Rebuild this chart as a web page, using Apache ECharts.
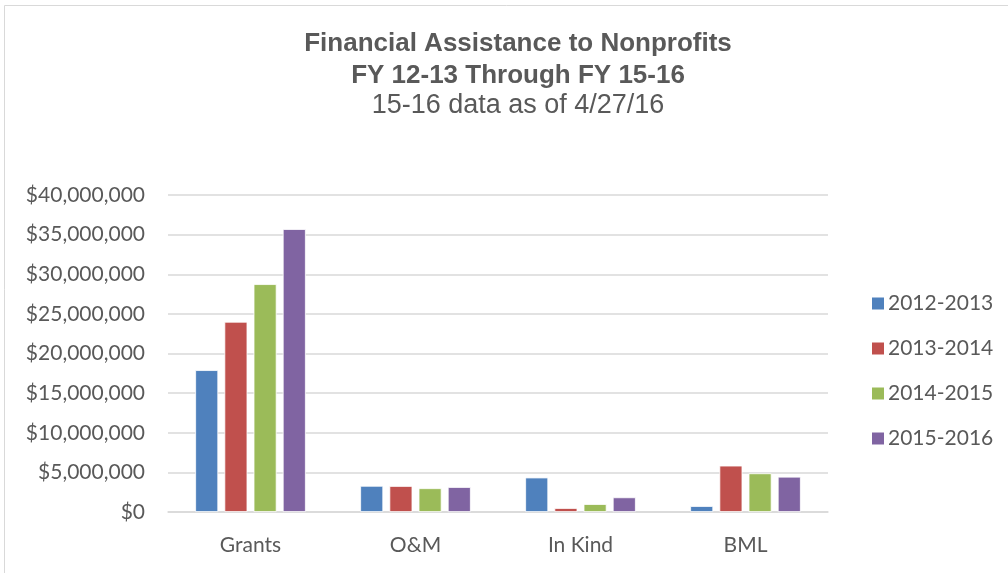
<!DOCTYPE html>
<html><head><meta charset="utf-8">
<script src="https://cdn.jsdelivr.net/npm/echarts@6/dist/echarts.min.js"></script>
<style>html,body{margin:0;padding:0;background:#fff}#c{width:1008px;height:573px}</style>
</head><body><div id="c"></div>
<script>
const categories = ["Grants", "O&M", "In Kind", "BML"];
const seriesNames = ["2012-2013", "2013-2014", "2014-2015", "2015-2016"];
const s2012 = [17900000, 3300000, 4350000, 750000];
const s2013 = [24000000, 3280000, 500000, 5850000];
const s2014 = [28750000, 3000000, 1000000, 4880000];
const s2015 = [35700000, 3150000, 1850000, 4450000];
const colors = ["#4F81BD", "#C0504D", "#9BBB59", "#8064A2"];
const yTicks = {min: 0, max: 40000000, interval: 5000000};

const chart = echarts.init(document.getElementById('c'));
const allData = [s2012, s2013, s2014, s2015];
chart.setOption({
  animation: false,
  graphic: [{type: 'rect', shape: {x: 4.5, y: 5.5, width: 1010, height: 580}, style: {fill: 'none', stroke: '#d9d9d9', lineWidth: 1}}],
  title: [
    {text: 'Financial Assistance to Nonprofits\nFY 12-13 Through FY 15-16', left: 513, textAlign: 'center', top: 23,
     textStyle: {fontFamily: 'Liberation Sans', fontWeight: 'bold', fontSize: 26, color: '#595959', lineHeight: 32}},
    {text: '15-16 data as of 4/27/16', left: 513, textAlign: 'center', top: 87,
     textStyle: {fontFamily: 'Liberation Sans', fontWeight: 'normal', fontSize: 27, color: '#595959', lineHeight: 27}}
  ],
  legend: {
    orient: 'vertical', left: 865, top: 288, itemGap: 24, itemWidth: 14, itemHeight: 14,
    icon: 'rect', data: seriesNames,
    textStyle: {fontFamily: 'Lato', fontSize: 21, lineHeight: 21, color: '#595959', padding: [0, 0, 0, -2]}
  },
  grid: {left: 168, right: 180, top: 195, bottom: 61},
  xAxis: {
    type: 'category', data: categories,
    axisLine: {lineStyle: {color: '#d9d9d9', width: 1.5}},
    axisTick: {show: false},
    axisLabel: {fontFamily: 'Lato', fontSize: 21, color: '#595959', margin: 23}
  },
  yAxis: {
    type: 'value', min: yTicks.min, max: yTicks.max, interval: yTicks.interval,
    axisLine: {show: false}, axisTick: {show: false},
    splitLine: {lineStyle: {color: '#d9d9d9', width: 1.5}},
    axisLabel: {fontFamily: 'Lato', fontSize: 21, color: '#595959', margin: 23,
      formatter: v => '$' + v.toLocaleString('en-US')}
  },
  series: seriesNames.map((n, i) => ({
    name: n, type: 'bar', data: allData[i],
    barGap: '27%', barCategoryGap: '33%',
    itemStyle: {color: colors[i], borderColor: '#fff', borderWidth: 0.8}
  }))
});
</script></body></html>
